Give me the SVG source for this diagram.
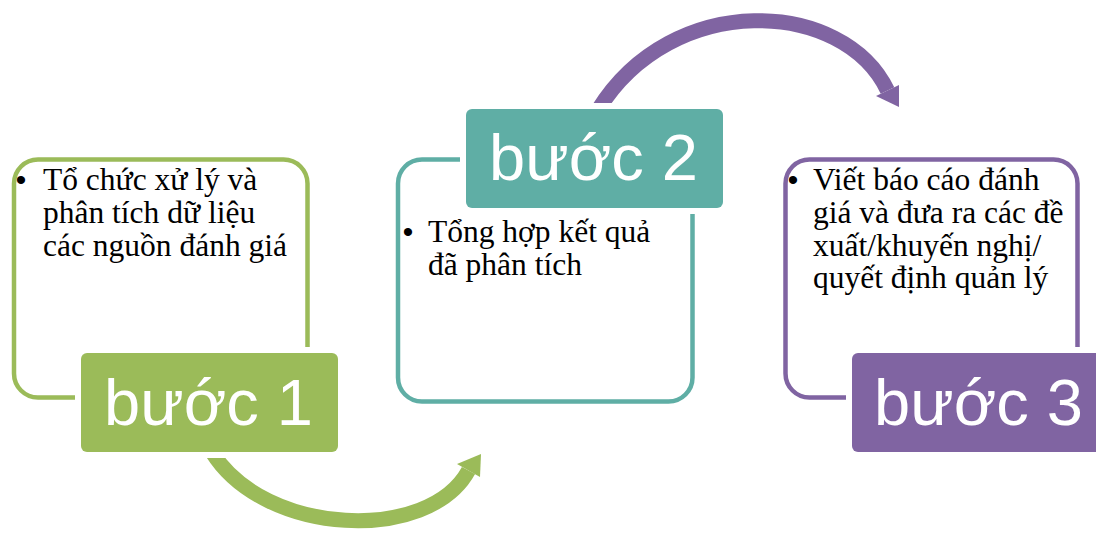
<svg xmlns="http://www.w3.org/2000/svg" width="1096" height="533" viewBox="0 0 1096 533">
<style>
.frame{fill:#fff;stroke-width:4.5}
.lbl{stroke:#fff;stroke-width:12;paint-order:stroke}
.lt{font-family:"Liberation Sans",Arial,sans-serif;font-size:65px;fill:#fff}
.bt{font-family:"Liberation Serif","Times New Roman",serif;font-size:31.5px;fill:#000}
.bu{font-family:"Liberation Sans",Arial,sans-serif;font-size:30px;fill:#000;text-anchor:middle}
.g{stroke:#9BBB59}.t{stroke:#5FAEA5}.p{stroke:#8064A2}
</style>
<rect width="1096" height="533" fill="#fff"/>
<g id="connectors" fill="none">
  <path d="M212 452 C265 537 429 543 468.5 470.5" stroke="#9BBB59" stroke-width="15"/>
  <polygon points="457,464 481,454 480,477" fill="#9BBB59"/>
  <path d="M598 110 C672 -10 843.5 -1.5 887.5 90.5" stroke="#8064A2" stroke-width="15"/>
  <polygon points="876,96 899,85 899,107" fill="#8064A2"/>
</g>
<g id="step1">
  <rect class="frame g" x="14" y="159.5" width="293.5" height="238" rx="24"/>
  <text class="bu" x="21" y="190">•</text>
  <text class="bt" x="43" y="190">Tổ chức xử lý và</text>
  <text class="bt" x="43" y="223">phân tích dữ liệu</text>
  <text class="bt" x="43" y="256">các nguồn đánh giá</text>
  <rect class="lbl" x="81" y="353" width="257" height="99" rx="6" fill="#9BBB59"/>
  <text class="lt" x="104" y="425">bước 1</text>
</g>
<g id="step2">
  <rect class="frame t" x="398" y="159.5" width="294.5" height="242" rx="24"/>
  <text class="bu" x="408" y="242">•</text>
  <text class="bt" x="428" y="242">Tổng hợp kết quả</text>
  <text class="bt" x="428" y="275">đã phân tích</text>
  <rect class="lbl" x="466" y="109" width="257" height="99" rx="6" fill="#5FAEA5"/>
  <text class="lt" x="489" y="180">bước 2</text>
</g>
<g id="step3">
  <rect class="frame p" x="785.5" y="159.5" width="292" height="238" rx="24"/>
  <text class="bu" x="793" y="190">•</text>
  <text class="bt" x="813" y="190">Viết báo cáo đánh</text>
  <text class="bt" x="813" y="223">giá và đưa ra các đề</text>
  <text class="bt" x="813" y="255.5">xuất/khuyến nghị/</text>
  <text class="bt" x="813" y="288">quyết định quản lý</text>
  <rect class="lbl" x="852" y="353" width="250" height="99" rx="6" fill="#8064A2"/>
  <text class="lt" x="874" y="425">bước 3</text>
</g>
</svg>
